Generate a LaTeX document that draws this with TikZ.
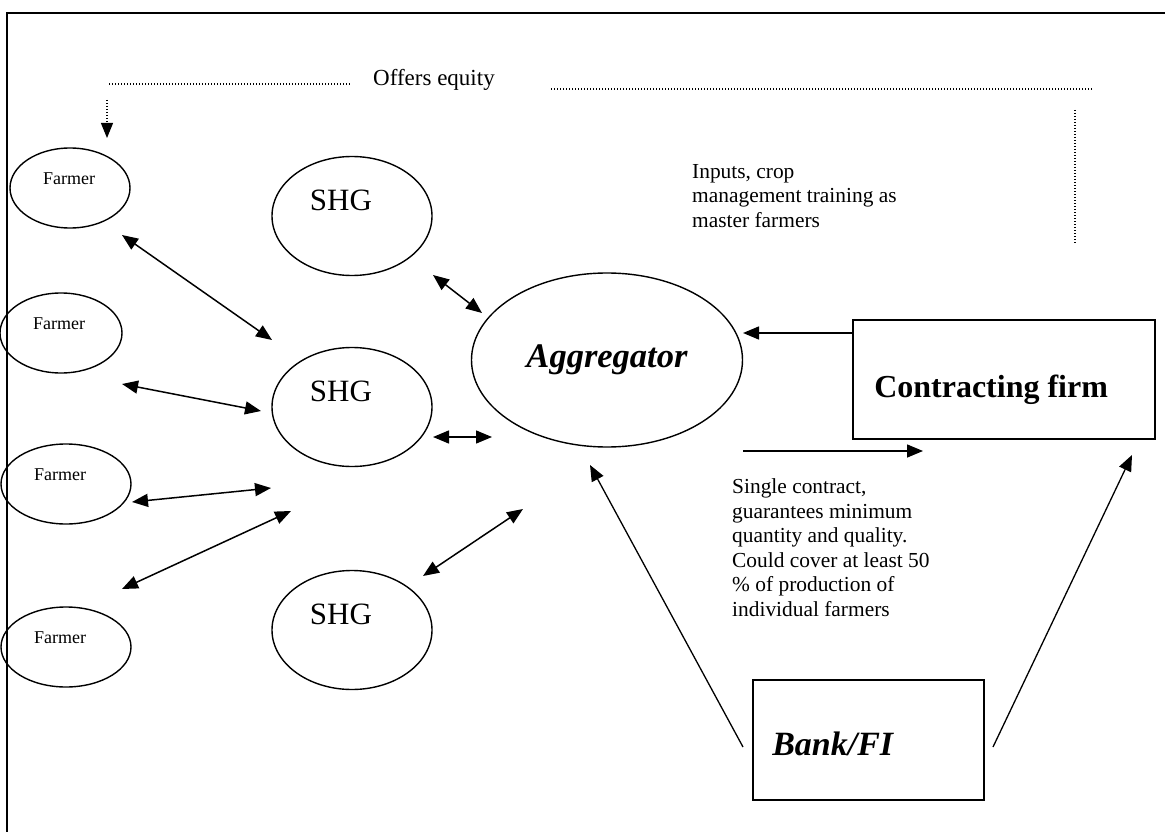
\documentclass[tikz,border=0pt]{standalone}
\usepackage{fontspec}
\setmainfont{Liberation Serif}
\usetikzlibrary{shapes.geometric,arrows.meta}

\begin{document}
\begin{tikzpicture}[x=1pt,y=-1pt]
    \tikzstyle{farmer}=[ellipse,draw,line width=1.4pt,minimum height=80pt,inner sep=0pt]
    \tikzstyle{farmertext}=[font=\fontsize{18}{20}\selectfont,inner sep=0pt,yshift=9pt]
    \tikzstyle{shg}=[ellipse,draw,line width=1.4pt,minimum width=160pt,minimum height=119pt,inner sep=0pt]
    \tikzstyle{shgtext}=[font=\fontsize{31}{34}\selectfont,inner sep=0pt,xshift=-11pt,yshift=16pt]
    \tikzstyle{partner}=[rectangle,draw,line width=1.9pt,inner sep=0pt]
    \tikzstyle{twoway}=[line width=1.5pt,{Triangle[length=16pt,width=13pt]}-{Triangle[length=16pt,width=13pt]}]
    \tikzstyle{oneway}=[line width=1.5pt,-{Triangle[length=16pt,width=13pt]}]
    \tikzstyle{dotline}=[line width=1.1pt,dash pattern=on 1pt off 2pt]
    \tikzstyle{note}=[font=\fontsize{21.4}{24.5}\selectfont,align=left,inner sep=0pt,anchor=north west]

    \useasboundingbox (0,0) rectangle (1165,832);
    \draw[line width=2.4pt] (7,832) -- (7,13) -- (1165,13);

    % farmers and SHGs
    \node[farmer,minimum width=120pt,label={[farmertext,xshift=-1pt]center:Farmer}] (f1) at (70,188) {};
    \node[farmer,minimum width=122pt,label={[farmertext,xshift=-2pt]center:Farmer}] (f2) at (61,333) {};
    \node[farmer,minimum width=130pt,label={[farmertext,xshift=-6pt]center:Farmer}] (f3) at (66,484) {};
    \node[farmer,minimum width=130pt,label={[farmertext,xshift=-6pt]center:Farmer}] (f4) at (66,647) {};
    \node[shg,label={[shgtext]center:SHG}] (shg1) at (352,216) {};
    \node[shg,label={[shgtext]center:SHG}] (shg2) at (352,407) {};
    \node[shg,label={[shgtext]center:SHG}] (shg3) at (352,630) {};

    % aggregator, firm and bank
    \node[ellipse,draw,line width=1.4pt,minimum width=271pt,minimum height=174pt,inner sep=0pt,
      font=\fontsize{34.5}{38}\selectfont\bfseries\itshape] (agg) at (607,360) {Aggregator};
    \node[partner,minimum width=302pt,minimum height=119pt,
      label={[font=\fontsize{32}{36}\selectfont\bfseries,inner sep=0pt,anchor=west,xshift=22pt,yshift=-10pt]west:Contracting firm}] (firm) at (1004,379.5) {};
    \node[partner,minimum width=231pt,minimum height=120pt,
      label={[font=\fontsize{34}{38}\selectfont\bfseries\itshape,inner sep=0pt,anchor=west,xshift=20pt,yshift=-4pt]west:Bank/FI}] (bank) at (868.5,740) {};

    % texts
    \node[font=\fontsize{23}{26}\selectfont,anchor=base,inner sep=0pt] (equity) at (434,86) {Offers equity};
    \node[note] (inputs) at (692,164) {Inputs, crop\\management training as\\master farmers};
    \node[note] (contract) at (732,478.5) {Single contract,\\guarantees minimum\\quantity and quality.\\Could cover at least 50\\\% of production of\\individual farmers};

    % equity offer, dotted
    \coordinate (eqa) at (109,84);
    \coordinate (eqb) at (351,84);
    \coordinate (eqc) at (551,89);
    \coordinate (eqd) at (1092,89);
    \coordinate (eqe) at (1075,110);
    \coordinate (eqf) at (1075,243);
    \coordinate (eqg) at (107,100);
    \coordinate (f1top) at (107,138);
    \draw[dotline] (eqa) -- (eqb);
    \draw[dotline] (eqc) -- (eqd);
    \draw[dotline] (eqe) -- (eqf);
    \draw[dotline,-{Triangle[length=15pt,width=12pt]}] (eqg) -- (f1top);

    % farmers <-> SHG
    \coordinate (f1r) at (122,235);   \coordinate (shg2a) at (272,340);
    \coordinate (f2r) at (122,384);   \coordinate (shg2b) at (261,411);
    \coordinate (f3r) at (132,502);   \coordinate (shg2c) at (271,488);
    \coordinate (f4r) at (122,589);   \coordinate (shg2d) at (291,511);
    \draw[twoway] (f1r) -- (shg2a);
    \draw[twoway] (f2r) -- (shg2b);
    \draw[twoway] (f3r) -- (shg2c);
    \draw[twoway] (f4r) -- (shg2d);

    % SHG <-> aggregator
    \coordinate (shg1r) at (433,275); \coordinate (agga) at (482,313);
    \coordinate (shg2r) at (433,437); \coordinate (aggb) at (492,437);
    \coordinate (shg3r) at (423,576); \coordinate (aggc) at (523,509);
    \draw[twoway] (shg1r) -- (agga);
    \draw[twoway] (shg2r) -- (aggb);
    \draw[twoway] (shg3r) -- (aggc);

    % aggregator, firm and bank
    \coordinate (aggd) at (743,333);
    \coordinate (agge) at (743,451);  \coordinate (firmb) at (923,451);
    \coordinate (bankl) at (743,747); \coordinate (aggf) at (590,465);
    \coordinate (bankr) at (993,747); \coordinate (firmc) at (1132,455);
    \draw[oneway] ([yshift=46.5pt]firm.west) -- (aggd);
    \draw[oneway] (agge) -- (firmb);
    \draw[oneway,line width=1.3pt] (bankl) -- (aggf);
    \draw[oneway,line width=1.3pt] (bankr) -- (firmc);
\end{tikzpicture}
\end{document}
